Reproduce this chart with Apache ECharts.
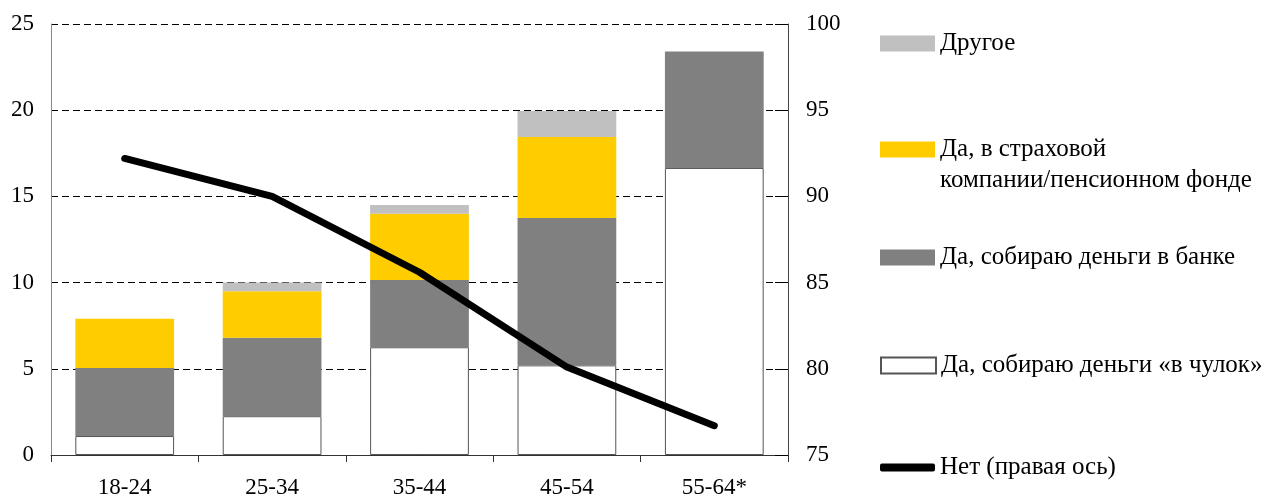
<!DOCTYPE html>
<html>
<head>
<meta charset="utf-8">
<script src="https://cdn.jsdelivr.net/npm/echarts@6/dist/echarts.min.js"></script>
<style>
html,body{margin:0;padding:0;background:#fff;}
#chart{width:1268px;height:497px;}
</style>
</head>
<body>
<div id="chart"></div>
<script>
var categories = ['18-24', '25-34', '35-44', '45-54', '55-64*'];
var stocking = [1.1, 2.25, 6.25, 5.2, 16.65];
var bank = [3.95, 4.55, 3.9, 8.55, 6.75];
var insurance = [2.85, 2.7, 3.85, 4.7, 0];
var other = [0, 0.5, 0.5, 1.5, 0];
var noLine = [92.2, 90.0, 85.6, 80.1, 76.7];
var leftTicks = [0, 25, 5];
var rightTicks = [75, 100, 5];

var names = {
  other: 'Другое',
  ins: 'Да, в страховой компании/пенсионном фонде',
  bank: 'Да, собираю деньги в банке',
  stock: 'Да, собираю деньги «в чулок»',
  no: 'Нет (правая ось)'
};

var FONT = '"Liberation Serif", "Times New Roman", serif';
var txt = {fontFamily: FONT, fontSize: 23, color: '#000'};
var legTxt = {fontFamily: FONT, fontSize: 25, color: '#000'};

function leg(name, top, extra) {
  var o = {
    data: [name], left: 880, top: top, orient: 'vertical', padding: 0,
    itemWidth: 55, itemHeight: 16, itemGap: 0, selectedMode: false,
    icon: 'rect', textStyle: legTxt
  };
  for (var k in extra) o[k] = extra[k];
  return o;
}

var chart = echarts.init(document.getElementById('chart'), null, {renderer: 'canvas'});
chart.setOption({
  animation: false,
  grid: {left: 51, right: 480, top: 24, bottom: 42, containLabel: false, outerBoundsMode: 'none'},
  legend: [
    leg(names.other, 31),
    leg(names.ins, 137, {formatter: function () { return 'Да, в страховой'; }}),
    leg(names.bank, 245),
    leg(names.stock, 353),
    leg(names.no, 455, {icon: 'roundRect', itemHeight: 8, itemStyle: {color: '#000'}})
  ],
  graphic: [{
    type: 'text', left: 940, top: 168,
    style: {text: 'компании/пенсионном фонде', font: '25px ' + FONT, fill: '#000'}
  }],
  xAxis: {
    type: 'category', data: categories,
    axisLine: {lineStyle: {color: '#333', width: 1}},
    axisTick: {show: true, length: 7, inside: false, lineStyle: {color: '#333'}},
    axisLabel: Object.assign({margin: 21}, txt),
    splitLine: {show: false}
  },
  yAxis: [{
    type: 'value', min: leftTicks[0], max: leftTicks[1], interval: leftTicks[2],
    axisLine: {show: true, lineStyle: {color: '#888'}},
    axisTick: {show: false},
    axisLabel: Object.assign({margin: 17}, txt),
    splitLine: {show: true, lineStyle: {color: '#000', type: [7, 4], width: 1}}
  }, {
    type: 'value', min: rightTicks[0], max: rightTicks[1], interval: rightTicks[2],
    position: 'right',
    axisLine: {show: true, lineStyle: {color: '#444'}},
    axisTick: {show: true, inside: true, length: 13, lineStyle: {color: '#000'}},
    axisLabel: Object.assign({margin: 18}, txt),
    splitLine: {show: false}
  }],
  series: [
    {name: names.stock, type: 'bar', stack: 's', data: stocking, barWidth: '67%',
     itemStyle: {color: '#fff', borderColor: '#555', borderWidth: 1}},
    {name: names.bank, type: 'bar', stack: 's', data: bank,
     itemStyle: {color: '#808080'}},
    {name: names.ins, type: 'bar', stack: 's', data: insurance,
     itemStyle: {color: '#FFCC00'}},
    {name: names.other, type: 'bar', stack: 's', data: other,
     itemStyle: {color: '#C0C0C0'}},
    {name: names.no, type: 'line', yAxisIndex: 1, data: noLine, symbol: 'none',
     lineStyle: {color: '#000', width: 7, cap: 'round', join: 'round'},
     itemStyle: {color: '#000'}, z: 5}
  ]
});
</script>
</body>
</html>
